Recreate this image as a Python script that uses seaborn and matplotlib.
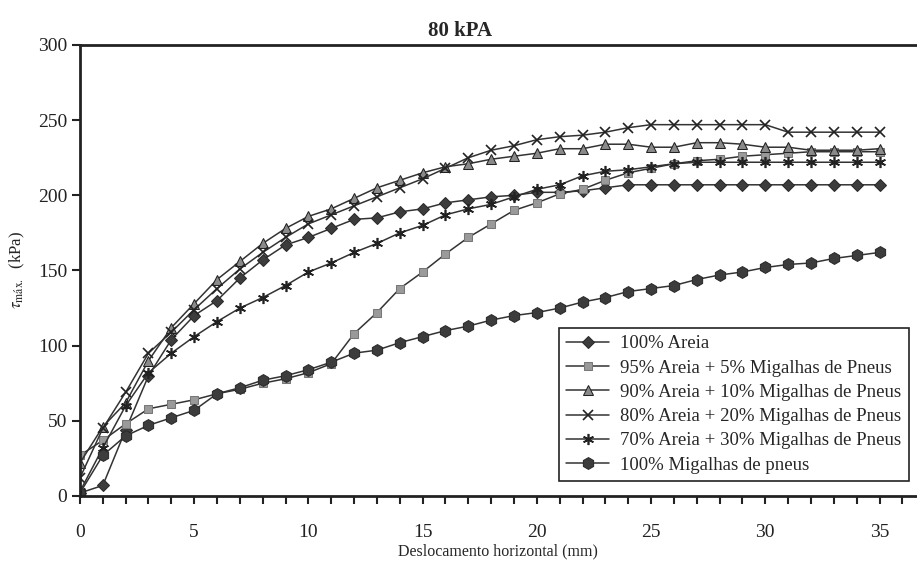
import numpy as np
import pandas as pd
import matplotlib
matplotlib.use("Agg")
import matplotlib.pyplot as plt
import seaborn as sns
from matplotlib.ticker import MultipleLocator

desloc = list(range(0, 36))

areia100 = [2, 7, 44, 80, 104, 120, 130, 145, 157, 167, 172, 178, 184, 185, 189, 191, 195, 197,
            199, 200, 202, 202, 203, 205, 207, 207, 207, 207, 207, 207, 207, 207, 207, 207, 207, 207]
areia95 = [27, 37, 48, 58, 61, 64, 68, 71, 75, 78, 82, 88, 108, 122, 138, 149, 161, 172,
           181, 190, 195, 201, 204, 210, 215, 218, 221, 223, 224, 226, 227, 228, 229, 229, 229, 229]
areia90 = [22, 46, 62, 90, 112, 128, 144, 156, 168, 178, 186, 191, 198, 205, 210, 215, 219, 221,
           224, 226, 228, 231, 231, 234, 234, 232, 232, 235, 235, 234, 232, 232, 230, 230, 230, 231]
areia80 = [12, 45, 69, 95, 109, 124, 138, 151, 162, 172, 181, 187, 193, 199, 205, 211, 218, 225,
           230, 233, 237, 239, 240, 242, 245, 247, 247, 247, 247, 247, 247, 242, 242, 242, 242, 242]
areia70 = [3, 32, 60, 82, 95, 106, 116, 125, 132, 140, 149, 155, 162, 168, 175, 180, 187, 191,
           194, 199, 204, 207, 213, 216, 217, 219, 221, 222, 222, 222, 222, 222, 222, 222, 222, 222]
migalhas100 = [2, 27, 40, 47, 52, 57, 68, 72, 77, 80, 84, 89, 95, 97, 102, 106, 110, 113,
               117, 120, 122, 125, 129, 132, 136, 138, 140, 144, 147, 149, 152, 154, 155, 158, 160, 162]

labels = ["100% Areia",
          "95% Areia + 5% Migalhas de Pneus",
          "90% Areia + 10% Migalhas de Pneus",
          "80% Areia + 20% Migalhas de Pneus",
          "70% Areia + 30% Migalhas de Pneus",
          "100% Migalhas de pneus"]
series = [areia100, areia95, areia90, areia80, areia70, migalhas100]

sns.set_style("white")
plt.rcParams['font.family'] = ['Liberation Serif', 'DejaVu Serif']
plt.rcParams['mathtext.fontset'] = 'stix'

fig = plt.figure(figsize=(9.17, 5.61), dpi=100)
ax = fig.add_axes([0.0872, 0.1159, 0.9118, 0.8039])

styles = [
    dict(marker='D', markersize=6, markerfacecolor='#3c3c3c', markeredgecolor='#2a2a2a'),
    dict(marker='s', markersize=6, markerfacecolor='#9a9a9a', markeredgecolor='#777777'),
    dict(marker='^', markersize=7.5, markerfacecolor='#8a8a8a', markeredgecolor='#222222'),
    dict(marker='x', markersize=7, markeredgecolor='#222222', markeredgewidth=1.2),
    dict(marker=(6, 2, 0), markersize=8, markeredgecolor='#222222', markeredgewidth=1.2),
    dict(marker='h', markersize=8.5, markerfacecolor='#3c3c3c', markeredgecolor='#2a2a2a'),
]

for lab, vals, st in zip(labels, series, styles):
    df = pd.DataFrame({"x": desloc, "y": vals})
    sns.lineplot(data=df, x="x", y="y", ax=ax, color='#333333', linewidth=1.1,
                 label=lab, **st)

ax.set_xlim(0, 36.6)
ax.set_ylim(0, 300)
ax.xaxis.set_major_locator(MultipleLocator(5))
ax.xaxis.set_minor_locator(MultipleLocator(1))
ax.yaxis.set_major_locator(MultipleLocator(50))

for s in ['left', 'top', 'bottom']:
    ax.spines[s].set_visible(True)
    ax.spines[s].set_color('#222222')
    ax.spines[s].set_linewidth(2)
ax.spines['right'].set_visible(False)

ax.tick_params(axis='x', which='both', direction='out', length=6, width=1.5,
               colors='#222222', pad=14, labelsize=14, bottom=True)
ax.tick_params(axis='y', which='both', direction='out', length=6, width=1.5,
               colors='#222222', pad=3, labelsize=14, left=True)

ax.set_xlabel("Deslocamento horizontal (mm)", fontsize=11.5, labelpad=2)
ax.set_ylabel(r"$\tau_{\mathrm{máx.}}$  (kPa)", fontsize=12, labelpad=8)

fig.text(0.502, 0.945, "80 kPA", ha='center', va='center', fontsize=15, fontweight='bold')

leg = ax.legend(loc='lower right', bbox_to_anchor=(0.9916, 0.033), borderaxespad=0,
                fontsize=13.5, frameon=True, fancybox=False, edgecolor='#222222',
                framealpha=1, borderpad=0.4, labelspacing=0.38, handlelength=2.3,
                handletextpad=0.6)
leg.get_frame().set_linewidth(1.2)

fig.savefig("out.png", dpi=100)
